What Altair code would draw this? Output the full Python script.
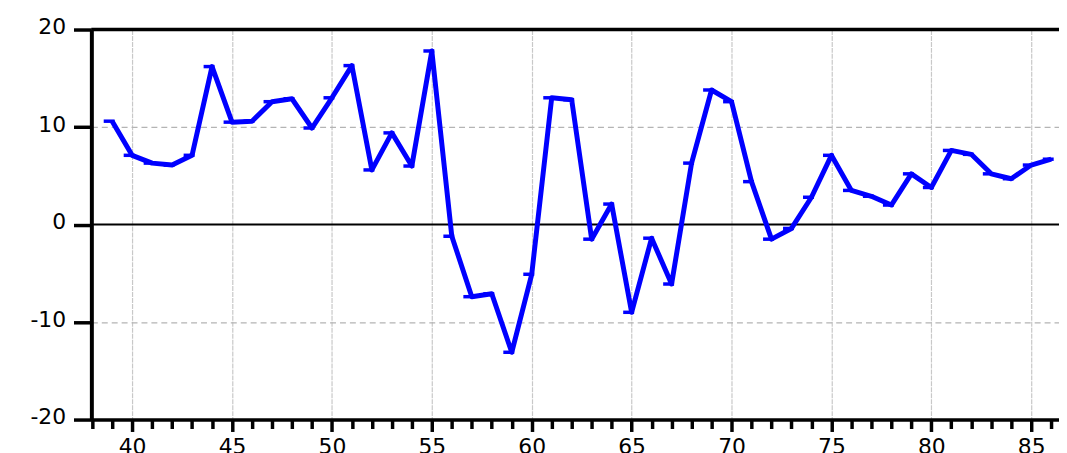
import altair as alt
import pandas as pd

years = list(range(39, 87))
values = [10.6, 7.1, 6.3, 6.1, 7.1, 16.2, 10.5, 10.6, 12.6, 12.9,
          9.9, 13.0, 16.3, 5.6, 9.4, 6.0, 17.8, -1.2, -7.4, -7.1,
          -13.1, -5.1, 13.0, 12.8, -1.5, 2.1, -9.0, -1.4, -6.1, 6.3,
          13.8, 12.6, 4.4, -1.5, -0.4, 2.8, 7.1, 3.5, 2.9, 2.0,
          5.2, 3.8, 7.6, 7.2, 5.2, 4.7, 6.1, 6.7]
y_ticks = [-20, -10, 0, 10, 20]
x_ticks = list(range(38, 87))
ref_lines = [0, 20]

df = pd.DataFrame({"year": years, "value": values})
ref_df = pd.DataFrame({"value": ref_lines, "w": [2, 3.5]})

FONT = "DejaVu Sans"

x_enc = alt.X(
    "year:Q",
    scale=alt.Scale(domain=[37.96, 86.39], nice=False, zero=False),
    axis=alt.Axis(
        values=x_ticks,
        title=None,
        labelExpr="datum.value % 5 === 0 ? toString(datum.value) : ''",
        labelFont=FONT, labelFontSize=22, labelColor="#000",
        labelPadding=5, labelFlush=False, labelOverlap=False,
        tickSize={"condition": {"test": "datum.value % 5 === 0", "value": 12}, "value": 9},
        tickWidth=3.5, tickColor="#000",
        domainColor="#000", domainWidth=3.5,
        grid=True,
        gridOpacity={"condition": {"test": "datum.value % 5 === 0", "value": 1}, "value": 0},
        gridColor="#c8c8c8", gridWidth=1.2, gridDash=[5, 1],
    ),
)
y_enc = alt.Y(
    "value:Q",
    scale=alt.Scale(domain=[-20, 20], nice=False),
    axis=alt.Axis(
        values=y_ticks,
        title=None,
        labelExpr="toString(datum.value)",
        labelFont=FONT, labelFontSize=22, labelColor="#000",
        labelPadding=8, labelOffset=-3, labelFlush=False,
        tickSize=18, tickWidth=3.5, tickColor="#000",
        domainColor="#000", domainWidth=4,
        grid=True,
        gridOpacity={"condition": {"test": "abs(datum.value) === 10", "value": 1}, "value": 0},
        gridColor="#b4b4b4", gridWidth=1.2, gridDash=[6, 4],
    ),
)

base = alt.Chart(df).encode(x=x_enc, y=y_enc)
line = base.mark_line(color="#0000ff", strokeWidth=5, strokeJoin="round")
marks = base.mark_tick(
    color="#0000ff", orient="horizontal", size=11, thickness=3.5, xOffset=-3, opacity=1
)

rules = alt.Chart(ref_df).mark_rule(color="#000").encode(
    y=y_enc,
    strokeWidth=alt.StrokeWidth("w:Q", scale=None, legend=None),
)

chart = alt.layer(rules, line, marks).properties(
    width=975, height=393,
    padding={"left": 84, "top": 20, "right": 0, "bottom": 32},
    autosize=alt.AutoSizeParams(type="none"),
).configure_view(stroke=None).configure(background="#ffffff")

chart.save("out.html", embed_options={"renderer": "svg", "actions": False})
